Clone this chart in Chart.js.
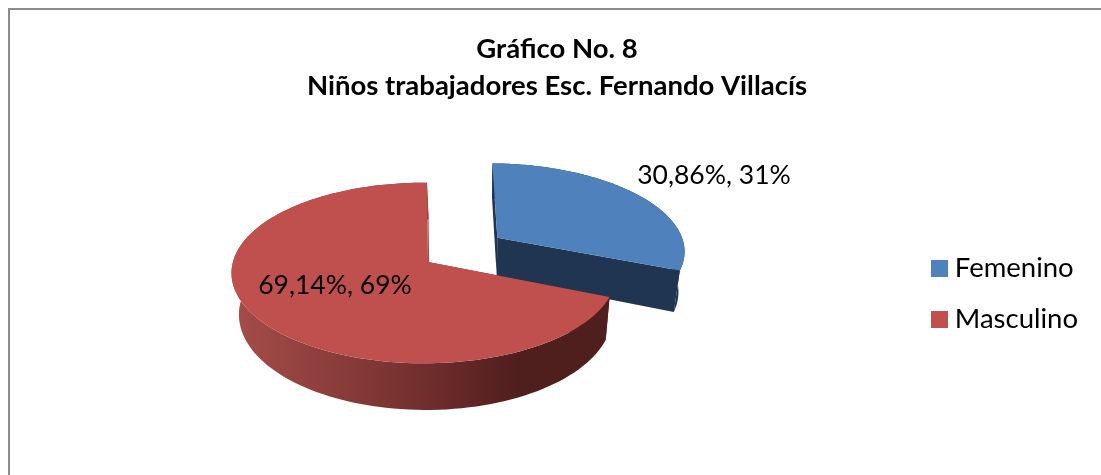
<!DOCTYPE html>
<html>
<head>
<meta charset="utf-8">
<title>Gráfico No. 8</title>
<script src="https://cdn.jsdelivr.net/npm/chart.js@4"></script>
<style>
  html, body { margin: 0; padding: 0; background: #fff; overflow: hidden; }
  #frame { position: absolute; left: 8px; top: 8px; width: 1096px; height: 568px; border: 2px solid #8c8c8c; }
  canvas { display: block; }
</style>
</head>
<body>
<div id="frame"><canvas id="chart" width="1096" height="568"></canvas></div>
<script>
const titleLines = ['Gráfico No. 8', 'Niños trabajadores Esc. Fernando Villacís'];
const categories = ['Femenino', 'Masculino'];
const percentValues = [30.86, 69.14];
const sliceColors = ['#4f81bd', '#c0504d'];
const sliceOffsets = [95, 0];

// 3D look: the pie is a flat circle seen from above
const PIE_X = 414, PIE_Y = 252;  // circle centre in canvas coords
const TILT = 0.456;
const PERSPECTIVE = 0.122;
const SCALE_X = 0.98;
const DEPTH = 41;
const BOTTOM_SHRINK = 0.03, SHRINK_X = 470;
const EXPLODE_TURN = -0.035;
const RED_APEX_NUDGE = 4;

function point(arc, ox, oy, angle, r, down) {
  const R = arc.outerRadius;
  const u = (ox + Math.cos(angle) * r) / R;
  const v = (oy + Math.sin(angle) * r) / R;
  const w = 1 - PERSPECTIVE * v;
  let x = PIE_X + SCALE_X * R * u / w;
  const y = PIE_Y + TILT * R * v / w + (down ? DEPTH / w : 0);
  if (down) x = SHRINK_X + (x - SHRINK_X) * (1 - BOTTOM_SHRINK);
  return [x, y];
}

function wallFill(ctx, color) {
  if (color !== sliceColors[1]) return '#1f3552';
  const g = ctx.createLinearGradient(230, 0, 600, 0);
  g.addColorStop(0, '#a34c49');
  g.addColorStop(0.33, '#833937');
  g.addColorStop(0.55, '#6a2b2a');
  g.addColorStop(0.75, '#4f1f1e');
  g.addColorStop(1, '#4f1f1e');
  return g;
}

Chart.ArcElement.prototype.draw = function (ctx) {
  const color = this.options.backgroundColor;
  const isRed = color === sliceColors[1];
  const offset = this.options.offset || 0;
  const mid = (this.startAngle + this.endAngle) / 2 + EXPLODE_TURN;
  const ox = Math.cos(mid) * offset, oy = Math.sin(mid) * offset;
  const steps = 120;
  const angles = [];
  for (let i = 0; i <= steps; i++) {
    angles.push(this.startAngle + (this.endAngle - this.startAngle) * i / steps);
  }

  const fillPath = (pts, fill) => {
    ctx.beginPath();
    pts.forEach((p, i) => i ? ctx.lineTo(p[0], p[1]) : ctx.moveTo(p[0], p[1]));
    ctx.closePath();
    ctx.fillStyle = fill;
    ctx.fill();
  };
  const apex = (down) => {
    const p = point(this, ox, oy, 0, 0, down);
    return [p[0] + (isRed ? RED_APEX_NUDGE : 0), p[1]];
  };

  const rim = angles.map(a => point(this, ox, oy, a, this.outerRadius, false))
    .concat(angles.slice().reverse().map(a => point(this, ox, oy, a, this.outerRadius, true)));
  fillPath(rim, wallFill(ctx, color));

  // cut faces
  [this.startAngle, this.endAngle].forEach((a, i) => {
    const cut = isRed ? (i === 1 ? '#a84845' : '#4f1f1e') : '#1f3552';
    fillPath([
      apex(false),
      point(this, ox, oy, a, this.outerRadius, false),
      point(this, ox, oy, a, this.outerRadius, true),
      apex(true)
    ], cut);
  });

  const face = [apex(false)]
    .concat(angles.map(a => point(this, ox, oy, a, this.outerRadius, false)));
  fillPath(face, color);
};

const pieLabels = {
  id: 'pieLabels',
  afterDatasetsDraw(chart) {
    const ctx = chart.ctx;
    const spots = [[704, 165], [325, 275]];
    ctx.save();
    ctx.font = '26.5px Lato';
    ctx.fillStyle = '#000';
    ctx.textAlign = 'center';
    ctx.textBaseline = 'middle';
    percentValues.forEach((v, i) => {
      const txt = v.toFixed(2).replace('.', ',') + '%, ' + Math.round(v) + '%';
      ctx.fillText(txt, spots[i][0], spots[i][1]);
    });
    ctx.restore();
  }
};

// legend swatch as image, so the gap to the text can be tighter than the default
function swatch(color) {
  const c = document.createElement('canvas');
  c.width = 17;
  c.height = 17;
  const g = c.getContext('2d');
  g.fillStyle = color;
  g.fillRect(0, 0, 17, 17);
  return c;
}
const swatches = sliceColors.map(swatch);

new Chart(document.getElementById('chart'), {
  type: 'pie',
  data: {
    labels: categories,
    datasets: [{
      data: percentValues,
      backgroundColor: sliceColors,
      borderWidth: 0,
      offset: sliceOffsets
    }]
  },
  plugins: [pieLabels],
  options: {
    responsive: false,
    animation: false,
    rotation: 1,
    radius: 195,
    layout: { padding: { left: 16, right: 18, bottom: 0 } },
    plugins: {
      title: {
        display: true,
        text: titleLines,
        color: '#000',
        font: { family: 'Lato', size: 27.5, weight: 'bold', lineHeight: 1.345 },
        padding: { top: 21, bottom: 10 }
      },
      legend: {
        position: 'right',
        labels: {
          color: '#000',
          font: { family: 'Lato', size: 27.5 },
          usePointStyle: true,
          boxWidth: 3,
          boxHeight: 17,
          padding: 23.5,
          generateLabels(chart) {
            return Chart.overrides.pie.plugins.legend.labels.generateLabels(chart)
              .map((item, i) => ({ ...item, pointStyle: swatches[i] }));
          }
        }
      },
      tooltip: { enabled: false }
    }
  }
});
</script>
</body>
</html>
